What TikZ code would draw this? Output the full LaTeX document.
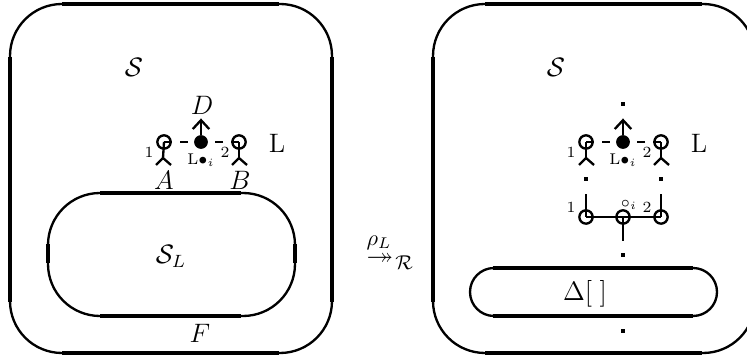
\documentclass[tikz,border=0pt]{standalone}
\usepackage{amssymb}
\usetikzlibrary{arrows.meta}
\tikzset{
	thinline/.style={line width=1.05pt},
	thickline/.style={line width=1.8pt},
	head/.style={circle, draw, line width=1.05pt, inner sep=0pt, minimum size=6pt},
	blackdot/.style={circle, fill=black, inner sep=0pt, minimum size=6.2pt},
	squaredot/.style={rectangle, fill=black, inner sep=0pt, minimum size=1.9pt},
	point/.style={inner sep=0pt, minimum size=0pt},
	dashline/.style={line width=1.05pt, dash pattern=on 3.6pt off 3.6pt},
	upline/.style={line width=1.05pt, -{Straight Barb[length=4pt, width=7.4pt]}},
	every node/.append style={font=\large},
	small label/.style={font=\scriptsize},
}
\begin{document}
\begin{tikzpicture}[x=0.45pt, y=-0.45pt]
	\clip (0, 0) rectangle (747, 360);

	\begin{scope}
		% outer box
		\draw[thinline, rounded corners=23.4pt] (10, 4) rectangle (332, 353);
		\draw[thickline] (62, 4) -- (279, 4);
		\draw[thickline] (62, 353) -- (279, 353);
		\draw[thickline] (10, 57) -- (10, 302);
		\draw[thickline] (332, 57) -- (332, 302);

		% inner box
		\draw[thinline, rounded corners=23.4pt] (48, 193) rectangle (295, 316);
		\draw[thickline] (100, 193) -- (241, 193);
		\draw[thickline] (100, 316) -- (241, 316);
		\draw[thickline] (48, 244) -- (48, 263);
		\draw[thickline] (295, 244) -- (295, 263);

		\node[head] (a) at (164, 142) {};
		\node[head] (b) at (239, 142) {};
		\node[blackdot] (c) at (201, 142) {};
		\node[point] (ah) at (163, 158) {};
		\node[point] (al) at (156, 165) {};
		\node[point] (ar) at (171, 165) {};
		\node[point] (bh) at (239, 158) {};
		\node[point] (bl) at (232, 165) {};
		\node[point] (br) at (247, 165) {};
		\node[point] (d) at (201, 118) {};

		\draw[dashline] (a.center) -- (c.center);
		\draw[dashline] (b.center) -- (c.center);
		\draw[upline] (c) -- (d);
		\draw[thinline] (a.center) -- (ah.center);
		\draw[thinline] (al.center) -- (ah.center) -- (ar.center);
		\draw[thinline] (b.center) -- (bh.center);
		\draw[thinline] (bl.center) -- (bh.center) -- (br.center);

		\node (ls) at (134, 67) {$\mathcal{S}$};
		\node (lsl) at (171, 256) {$\mathcal{S}_L$};
		\node (lf) at (200, 333) {$F$};
		\node (ld) at (202, 105) {$D$};
		\node (la) at (164, 180) {$A$};
		\node (lb) at (240, 180) {$B$};
		\node (ll) at (277, 143) {L};
		\node[small label] (l1) at (149, 152) {1};
		\node[small label] (l2) at (225, 152) {2};
		\node[small label] (li) at (201, 160) {L$\bullet_i$};
	\end{scope}

	\node[font=\normalsize] (rho) at (379, 243) {$\rho_L$};
	\node[font=\large] (onto) at (380, 258) {$\twoheadrightarrow$};
	\node[font=\small] (cr) at (404, 263) {$\mathcal{R}$};

	\begin{scope}
		% outer box runs off the page on the right
		\draw[thinline, rounded corners=23.4pt] (433, 4) rectangle (755, 353);
		\draw[thickline] (485, 4) -- (702, 4);
		\draw[thickline] (485, 353) -- (702, 353);
		\draw[thickline] (433, 57) -- (433, 302);

		% inner box
		\draw[thinline, rounded corners=10.8pt] (470, 268) rectangle (717, 316);
		\draw[thickline] (493, 268) -- (693, 268);
		\draw[thickline] (493, 316) -- (693, 316);

		\node[head] (p) at (586, 142) {};
		\node[head] (q) at (661, 142) {};
		\node[blackdot] (r) at (623, 142) {};
		\node[point] (ph) at (586, 158) {};
		\node[point] (pl) at (579, 165) {};
		\node[point] (pr) at (594, 165) {};
		\node[point] (qh) at (661, 158) {};
		\node[point] (ql) at (654, 165) {};
		\node[point] (qr) at (669, 165) {};
		\node[point] (s) at (623, 118) {};

		\draw[dashline] (p.center) -- (r.center);
		\draw[dashline] (q.center) -- (r.center);
		\draw[upline] (r) -- (s);
		\draw[thinline] (p.center) -- (ph.center);
		\draw[thinline] (pl.center) -- (ph.center) -- (pr.center);
		\draw[thinline] (q.center) -- (qh.center);
		\draw[thinline] (ql.center) -- (qh.center) -- (qr.center);

		\node[squaredot] (d1) at (623, 104) {};
		\node[squaredot] (d2) at (586, 179) {};
		\node[squaredot] (d3) at (661, 179) {};
		\node[squaredot] (d4) at (623, 255) {};
		\node[squaredot] (d5) at (623, 331) {};

		\node[head] (u) at (586, 217) {};
		\node[head] (v) at (623, 217) {};
		\node[head] (w) at (661, 217) {};
		\node[point] (ut) at (586, 194) {};
		\node[point] (wt) at (661, 194) {};
		\node[point] (vb) at (623, 241) {};

		\draw[thinline] (u.center) -- (v.center);
		\draw[thinline] (v.center) -- (w.center);
		\draw[thinline] (u.center) -- (ut.center);
		\draw[thinline] (w.center) -- (wt.center);
		\draw[thinline] (v.center) -- (vb.center);

		\node (rs) at (556, 67) {$\mathcal{S}$};
		\node (rl) at (699, 143) {L};
		\node (rd) at (585, 294) {$\Delta[\;]$};
		\node[small label] (r1) at (571, 152) {1};
		\node[small label] (r2) at (647, 152) {2};
		\node[small label] (ri) at (623, 160) {L$\bullet_i$};
		\node[small label] (r3) at (571, 207) {1};
		\node[small label] (r4) at (647, 207) {2};
		\node[small label] (r5) at (629, 205) {$\circ_i$};
	\end{scope}
\end{tikzpicture}
\end{document}
